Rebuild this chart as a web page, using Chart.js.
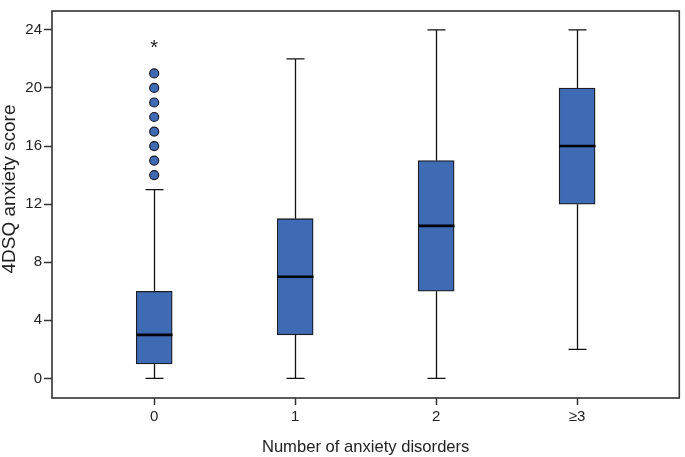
<!DOCTYPE html>
<html>
<head>
<meta charset="utf-8">
<script src="https://cdn.jsdelivr.net/npm/chart.js@4/dist/chart.umd.min.js"></script>
<style>
  html, body { margin: 0; padding: 0; background: #fff; }
  #wrap { width: 685px; height: 457px; }
</style>
</head>
<body>
<div id="wrap"><canvas id="myChart"></canvas></div>
<script>
// data
var groups = ['0', '1', '2', '≥3'];
var whiskerLow = [0, 0, 0, 2];
var q1 = [1, 3, 6, 12];
var median = [3, 7, 10.5, 16];
var q3 = [6, 11, 15, 20];
var whiskerHigh = [13, 22, 24, 24];
var outliers0 = [14, 15, 16, 17, 18, 19, 20, 21];
var extremes0 = [23];
var yTicks = [0, 4, 8, 12, 16, 20, 24];

var boxBlue = '#3f6bb5';
var darkLine = '#1a1c26';
var fontFam = '"Liberation Sans", Arial, sans-serif';
var yTitle = '4DSQ anxiety score';

var boxes = groups.map(function (g, i) { return { x: i, y: [q1[i], q3[i]] }; });
var outPts = outliers0.map(function (v) { return { x: 0, y: v }; });

// whiskers, caps, medians and the asterisk drawn with the chart's scales
var boxExtras = {
    id: 'boxExtras',
    afterDatasetsDraw: function (chart) {
        var ctx = chart.ctx, xs = chart.scales.x, ys = chart.scales.y;
        ctx.save();
        groups.forEach(function (g, i) {
            var cx = Math.round(xs.getPixelForValue(i)) + 0.5;
            ctx.strokeStyle = '#111';
            ctx.lineWidth = 1.3;
            ctx.beginPath();
            ctx.moveTo(cx, ys.getPixelForValue(q3[i]));
            ctx.lineTo(cx, ys.getPixelForValue(whiskerHigh[i]));
            ctx.moveTo(cx, ys.getPixelForValue(q1[i]));
            ctx.lineTo(cx, ys.getPixelForValue(whiskerLow[i]));
            ctx.moveTo(cx - 9, ys.getPixelForValue(whiskerHigh[i]));
            ctx.lineTo(cx + 9, ys.getPixelForValue(whiskerHigh[i]));
            ctx.moveTo(cx - 9, ys.getPixelForValue(whiskerLow[i]));
            ctx.lineTo(cx + 9, ys.getPixelForValue(whiskerLow[i]));
            ctx.stroke();
            ctx.strokeStyle = '#000';
            ctx.lineWidth = 2.6;
            ctx.beginPath();
            ctx.moveTo(cx - 18, ys.getPixelForValue(median[i]));
            ctx.lineTo(cx + 18, ys.getPixelForValue(median[i]));
            ctx.stroke();
        });
        ctx.fillStyle = '#222';
        ctx.font = '20px ' + fontFam;
        ctx.textAlign = 'center';
        ctx.textBaseline = 'middle';
        extremes0.forEach(function (v) {
            ctx.fillText('*', xs.getPixelForValue(0), ys.getPixelForValue(v) + 4);
        });
        // frame round the plot area
        var a = chart.chartArea;
        ctx.strokeStyle = '#333';
        ctx.lineWidth = 1.6;
        ctx.strokeRect(a.left, a.top, a.right - a.left, a.bottom - a.top);
        // y axis title, sits a bit above the axis middle in the original
        ctx.translate(10, 189);
        ctx.rotate(-Math.PI / 2);
        ctx.font = '19px ' + fontFam;
        ctx.fillText(yTitle, 0, 0);
        ctx.restore();
    }
};

new Chart(document.getElementById('myChart'), {
    data: {
        datasets: [{
            type: 'bar',
            data: boxes,
            backgroundColor: boxBlue,
            borderColor: darkLine,
            borderWidth: 1.3,
            borderSkipped: false,
            barThickness: 36,
            order: 2
        }, {
            type: 'scatter',
            data: outPts,
            pointRadius: 4.5,
            pointBackgroundColor: boxBlue,
            pointBorderColor: darkLine,
            pointBorderWidth: 1.2,
            order: 1
        }]
    },
    plugins: [boxExtras],
    options: {
        responsive: true,
        maintainAspectRatio: false,
        animation: false,
        layout: { padding: { top: 2, right: 2, left: 0, bottom: 0 } },
        plugins: { legend: { display: false }, tooltip: { enabled: false } },
        scales: {
            x: {
                type: 'linear',
                offset: false,
                min: -0.725,
                max: 3.725,
                afterBuildTicks: function (axis) {
                    axis.ticks = groups.map(function (g, i) { return { value: i }; });
                },
                afterFit: function (axis) { axis.height = 59; },
                ticks: {
                    color: '#222',
                    font: { size: 15, family: fontFam },
                    padding: 3,
                    maxRotation: 0,
                    callback: function (v) { return groups[v]; }
                },
                grid: { offset: false, drawOnChartArea: false, tickLength: 7, color: '#333', tickWidth: 1.5 },
                border: { display: false },
                title: {
                    display: true,
                    text: 'Number of anxiety disorders',
                    color: '#222',
                    font: { size: 16.6, family: fontFam },
                    padding: { top: 6, bottom: 0 }
                }
            },
            y: {
                min: -1.35,
                max: 25.3,
                afterBuildTicks: function (axis) {
                    axis.ticks = yTicks.map(function (v) { return { value: v }; });
                },
                afterFit: function (axis) { axis.width = 52; },
                ticks: {
                    color: '#222',
                    font: { size: 15, family: fontFam },
                    padding: 2
                },
                grid: { drawOnChartArea: false, tickLength: 8, color: '#333', tickWidth: 1.5 },
                border: { display: false },
                title: { display: false }
            }
        }
    }
});
</script>
</body>
</html>
